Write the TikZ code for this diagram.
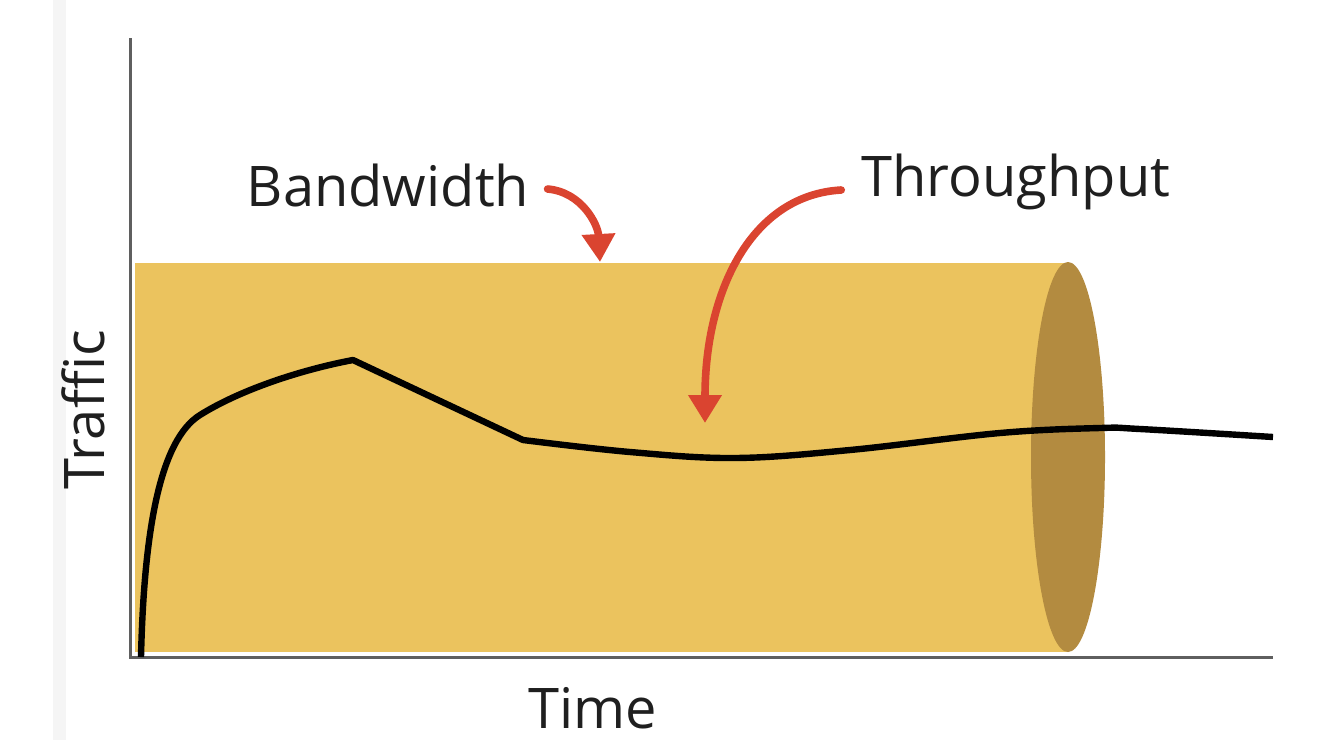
\documentclass[tikz,border=0pt]{standalone}
\usepackage{fontspec}
\setmainfont{Open Sans}
\usetikzlibrary{arrows.meta}

\definecolor{bandyellow}{RGB}{235,195,94}
\definecolor{bandbrown}{RGB}{179,139,64}
\definecolor{pointred}{RGB}{218,68,48}
\definecolor{axisgray}{RGB}{95,95,95}

\tikzset{
  axislabel/.style={font=\fontsize{28}{30}\selectfont, text=black!88, inner sep=0pt},
  pointer/.style={draw=pointred, line width=3.8pt, line cap=round,
    -{Triangle[length=14pt,width=16pt]}},
  trafficline/.style={line width=3.2pt, line join=round, black},
}

\begin{document}
\begin{tikzpicture}[x=0.5pt,y=-0.5pt]
        \useasboundingbox (0,0) rectangle (1320,740);

        % page edge strip
        \fill[black!4] (53,0) rectangle (66,740);

        % bandwidth pipe
        \fill[bandyellow] (135,263) rectangle (1068,652);
        \fill[bandbrown] (1068,457) ellipse [x radius=37, y radius=195];

        % axes
        \draw[axisgray, line width=1.5pt] (130,38) -- (130,657) -- (1273,657);

        % throughput curve
        \draw[trafficline] (141,657) .. controls (144,530) and (160,440) .. (200,415)
            .. controls (240,390) and (300,370) .. (353,360)
            -- plot[smooth, tension=0.6] coordinates
            {(523,440) (630,452) (735,458) (850,450) (1000,433) (1100,428) (1140,429) (1273,437)};

        % labels
        \node[axislabel] (bw) at (388,185) {Bandwidth};
        \node[axislabel] (tp) at (1016,182) {Throughput};
        \node[axislabel, rotate=90] (traffic) at (83,410) {Traffic};
        \node[axislabel] (time) at (593,708) {Time};

        % pointers
        \coordinate (bwtip) at (600,262);
        \coordinate (tptip) at (705,423);
        \draw[pointer] ([xshift=9pt,yshift=-2pt]bw.east) .. controls (582,192) and (598,225) .. (bwtip);
        \draw[pointer] ([xshift=-10pt,yshift=-4pt]tp.west) .. controls (752,195) and (705,290) .. (tptip);
    \end{tikzpicture}
\end{document}
